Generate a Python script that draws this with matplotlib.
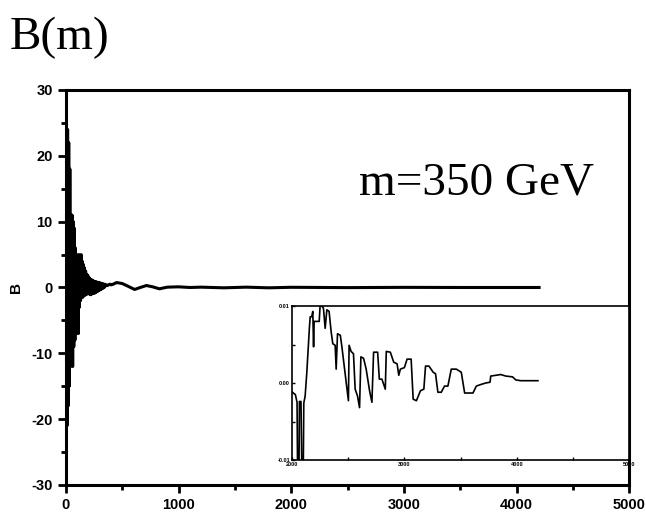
import matplotlib
matplotlib.use("Agg")
import matplotlib.pyplot as plt
from matplotlib.ticker import MultipleLocator, FixedLocator

# main curve B(m), m = 350 GeV
main_x = [0, 5, 10, 15, 20, 25, 30, 35, 40, 45, 50, 55, 60, 65, 70, 75, 80, 85, 90, 95,
          100, 105, 110, 115, 120, 125, 130, 135, 140, 145, 150, 155, 160, 165, 170, 175,
          180, 185, 190, 195, 200, 205, 210, 215, 220, 225, 230, 235, 240, 245, 250, 255,
          260, 265, 270, 275, 280, 285, 290, 295, 300, 305, 310, 315, 320, 325, 330, 335,
          340, 345, 350, 360, 370, 380, 390, 400, 420, 450, 500, 550, 610, 660, 715, 770,
          830, 900, 1000, 1100, 1200, 1400, 1600, 1800, 2000, 2500, 3000, 3500, 4200]
main_y = [0, 26.5, -21, 24, -18, 22, -15, 18, -12, 11, -10, 11, -12, 10, -9, 9, -8, 6, -7, 5,
          -6, 4, -7, 5, -3, 4, -2, 5, -1, 4, -1.5, 3.5, -1, 3, -1.2, 2.5, -1, 2, -1, 1.8,
          -0.9, 1.5, -1.0, 1.3, -1.1, 1.2, -1.0, 1.1, -0.9, 1.0, -0.9, 0.9, -0.8, 0.9,
          -0.7, 0.8, -0.6, 0.8, -0.5, 0.7, -0.4, 0.7, -0.3, 0.6, -0.2, 0.6, -0.1, 0.5,
          0.0, 0.5, 0.2, 0.4, 0.3, 0.4, 0.5, 0.4, 0.5, 0.75, 0.6, 0.2, -0.3, 0.0, 0.3, 0.1,
          -0.2, 0.05, 0.1, 0.0, 0.05, -0.05, 0.05, -0.05, 0.03, -0.02, 0.02, 0.0, 0.0]

# zoomed part, 2000 < x < 4200
ins_x = [2003, 2030, 2045, 2050, 2062, 2066, 2080, 2088, 2100, 2105, 2117, 2132, 2155, 2162,
         2175, 2185, 2192, 2197, 2218, 2242, 2250, 2265, 2280, 2295, 2310, 2330, 2348, 2363,
         2384, 2393, 2405, 2430, 2444, 2482, 2502, 2508, 2526, 2547, 2562, 2583, 2601, 2613,
         2637, 2660, 2690, 2711, 2726, 2762, 2777, 2800, 2830, 2839, 2875, 2905, 2935, 2950,
         2964, 3000, 3024, 3060, 3078, 3107, 3143, 3173, 3188, 3218, 3256, 3277, 3298, 3328,
         3357, 3387, 3417, 3462, 3506, 3536, 3610, 3640, 3679, 3723, 3762, 3768, 3813, 3857,
         3902, 3962, 3991, 4036, 4188]
ins_y = [-0.0012, -0.0015, -0.0025, -0.012, -0.012, -0.0024, -0.0024, -0.012, -0.012, -0.0026,
         -0.0017, 0.0014, 0.0072, 0.0086, 0.0086, 0.0093, 0.0047, 0.0080, 0.0080, 0.0080,
         0.0100, 0.0100, 0.0097, 0.0071, 0.0095, 0.0093, 0.0067, 0.0051, 0.0049, 0.0018,
         0.0064, 0.0062, 0.0047, 0.0001, -0.0023, 0.0049, 0.0041, 0.0038, -0.0008, -0.0017,
         -0.0032, 0.0034, 0.0032, 0.0018, -0.0010, -0.0025, 0.0040, 0.0040, 0.0005, 0.0005,
         -0.0008, 0.0041, 0.0040, 0.0027, 0.0025, 0.0010, 0.0018, 0.0020, 0.0031, 0.0031,
         -0.0021, -0.0023, -0.0010, -0.0008, 0.0022, 0.0022, 0.0014, 0.0012, -0.0012, -0.0012,
         -0.0004, -0.0004, 0.0018, 0.0018, 0.0014, -0.0013, -0.0013, -0.0004, -0.0002, 0.0000,
         0.0001, 0.0009, 0.0010, 0.0011, 0.0009, 0.0008, 0.0004, 0.0003, 0.0003]

plt.rcParams['font.family'] = ['Liberation Sans', 'DejaVu Sans']
plt.rcParams['font.weight'] = 'bold'
plt.rcParams['axes.unicode_minus'] = False

fig = plt.figure(figsize=(6.46, 5.13), dpi=100)
ax = fig.add_axes([0.102, 0.0546, 0.872, 0.770])
ax.plot(main_x, main_y, color='black', lw=2.2)
ax.set_xlim(0, 5000)
ax.set_ylim(-30, 30)
ax.xaxis.set_major_locator(MultipleLocator(1000))
ax.xaxis.set_minor_locator(MultipleLocator(500))
ax.yaxis.set_major_locator(MultipleLocator(10))
ax.yaxis.set_minor_locator(MultipleLocator(5))
ax.tick_params(which='major', direction='out', length=6, width=2, labelsize=10.5)
ax.tick_params(which='minor', direction='out', length=3.5, width=2)
for s in ax.spines.values():
    s.set_linewidth(2.2)
ax.set_ylabel('B', fontsize=11, fontweight='bold', labelpad=6)

fig.text(0.015, 0.905, 'B(m)', family='Liberation Serif', fontsize=34, fontweight='normal')
ax.text(0.52, 0.735, 'm=350 GeV', transform=ax.transAxes, family='Liberation Serif',
        fontsize=34, fontweight='normal')

ins = fig.add_axes([0.452, 0.1033, 0.522, 0.3002])
ins.plot(ins_x, ins_y, color='black', lw=1.2)
ins.set_xlim(2000, 5000)
ins.set_ylim(-0.01, 0.01)
ins.xaxis.set_major_locator(FixedLocator([2000, 3000, 4000, 5000]))
ins.xaxis.set_minor_locator(MultipleLocator(500))
ins.yaxis.set_major_locator(FixedLocator([-0.01, 0.0, 0.01]))
ins.yaxis.set_minor_locator(MultipleLocator(0.005))
ins.set_yticklabels(['-0.01', '0.00', '0.01'])
ins.tick_params(which='both', direction='in', length=2, width=1, labelsize=4, pad=1.5)
for s in ins.spines.values():
    s.set_linewidth(1.2)

fig.savefig('out.png', dpi=100)
